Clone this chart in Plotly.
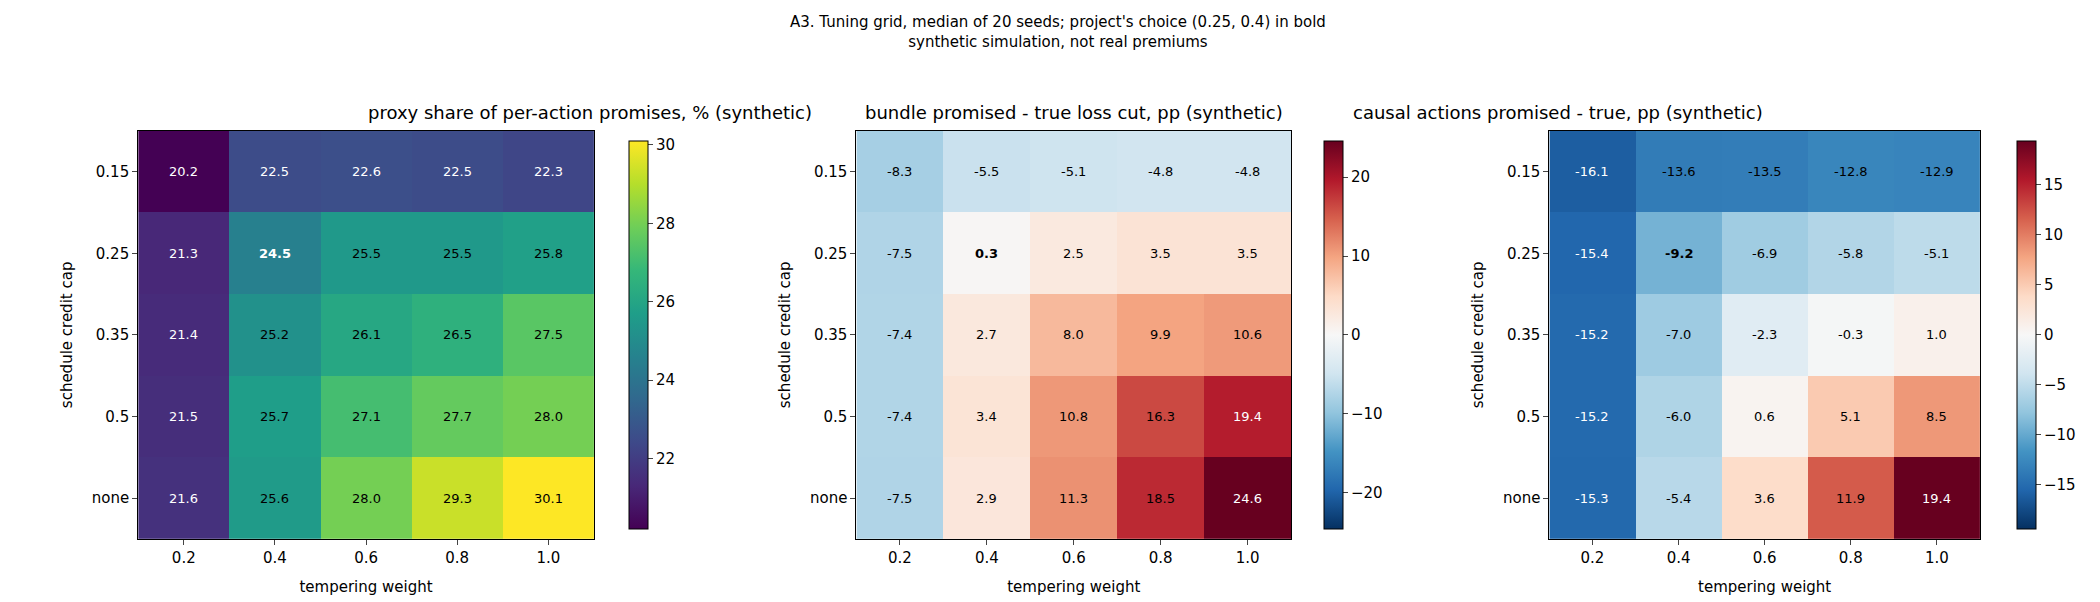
import plotly.graph_objects as go

weights = ["0.2", "0.4", "0.6", "0.8", "1.0"]
caps = ["0.15", "0.25", "0.35", "0.5", "none"]

proxy_share = [
    [20.2, 22.5, 22.6, 22.5, 22.3],
    [21.3, 24.5, 25.5, 25.5, 25.8],
    [21.4, 25.2, 26.1, 26.5, 27.5],
    [21.5, 25.7, 27.1, 27.7, 28.0],
    [21.6, 25.6, 28.0, 29.3, 30.1],
]
bundle_gap = [
    [-8.3, -5.5, -5.1, -4.8, -4.8],
    [-7.5, 0.3, 2.5, 3.5, 3.5],
    [-7.4, 2.7, 8.0, 9.9, 10.6],
    [-7.4, 3.4, 10.8, 16.3, 19.4],
    [-7.5, 2.9, 11.3, 18.5, 24.6],
]
causal_gap = [
    [-16.1, -13.6, -13.5, -12.8, -12.9],
    [-15.4, -9.2, -6.9, -5.8, -5.1],
    [-15.2, -7.0, -2.3, -0.3, 1.0],
    [-15.2, -6.0, 0.6, 5.1, 8.5],
    [-15.3, -5.4, 3.6, 11.9, 19.4],
]
titles = ["proxy share of per-action promises, % (synthetic)",
          "bundle promised - true loss cut, pp (synthetic)",
          "causal actions promised - true, pp (synthetic)"]
chosen = ("0.25", "0.4")

rdbu = [[0, "#053061"], [0.1, "#2166ac"], [0.2, "#4393c3"], [0.3, "#92c5de"],
        [0.4, "#d1e5f0"], [0.5, "#f7f7f7"], [0.6, "#fddbc7"], [0.7, "#f4a582"],
        [0.8, "#d6604d"], [0.9, "#b2182b"], [1, "#67001f"]]

doms = [(0.062, 0.279), (0.404, 0.611), (0.734, 0.939)]
cbx = [0.291, 0.622, 0.952]
y0, y1 = 0.118, 0.796

fig = go.Figure()
annos = []
for k, (z, title) in enumerate(zip([proxy_share, bundle_gap, causal_gap], titles)):
    ax = "" if k == 0 else str(k + 1)
    if k == 0:
        zmin, zmax, cs = 20.2, 30.1, "Viridis"
        dtick = 2
    else:
        m = max(abs(v) for row in z for v in row)
        zmin, zmax, cs = -m, m, rdbu
        dtick = 10 if k == 1 else 5
    fig.add_trace(go.Heatmap(
        x=weights, y=caps, z=z, zmin=zmin, zmax=zmax, colorscale=cs,
        xaxis="x" + ax, yaxis="y" + ax, hoverinfo="skip",
        colorbar=dict(x=cbx[k], xanchor="left", y=y0, yanchor="bottom", len=y1 - y0,
                      thickness=19, outlinewidth=1, outlinecolor="black", ticks="outside",
                      dtick=dtick, tickfont=dict(size=15, color="black"))))
    for i, c in enumerate(caps):
        for j, w in enumerate(weights):
            v = z[i][j]
            frac = (v - zmin) / (zmax - zmin)
            if k == 0:
                col = "white" if frac < 0.45 else "black"
            else:
                col = "white" if frac < 0.12 or frac > 0.88 else "black"
            txt = f"{v:.1f}"
            if (c, w) == chosen:
                txt = f"<b>{txt}</b>"
            annos.append(dict(x=j, y=i, xref="x" + ax, yref="y" + ax, text=txt,
                              showarrow=False, font=dict(size=13, color=col)))
    annos.append(dict(x=sum(doms[k]) / 2, y=y1 + 0.01, xref="paper", yref="paper",
                      text=title, showarrow=False, yanchor="bottom",
                      font=dict(size=18, color="black")))
    axstyle = dict(type="category", showline=True, linecolor="black", mirror=True, ticks="outside",
                   tickfont=dict(size=15, color="black"), showgrid=False)
    fig.layout["xaxis" + ax] = dict(domain=doms[k], anchor="y" + ax,
                                    title=dict(text="tempering weight", font=dict(size=15)), **axstyle)
    fig.layout["yaxis" + ax] = dict(domain=[y0, y1], anchor="x" + ax, autorange="reversed",
                                    title=dict(text="schedule credit cap", font=dict(size=15)), **axstyle)

annos.append(dict(x=0.5, y=0.995, xref="paper", yref="paper", showarrow=False, yanchor="top",
                  text="A3. Tuning grid, median of 20 seeds; project's choice (0.25, 0.4) in bold"
                       "<br>synthetic simulation, not real premiums",
                  font=dict(size=15, color="black")))
fig.update_layout(width=2100, height=602, annotations=annos, plot_bgcolor="white",
                  paper_bgcolor="white", margin=dict(l=0, r=0, t=0, b=0),
                  font=dict(family="DejaVu Sans", color="black"))
fig.write_html("out.html")
